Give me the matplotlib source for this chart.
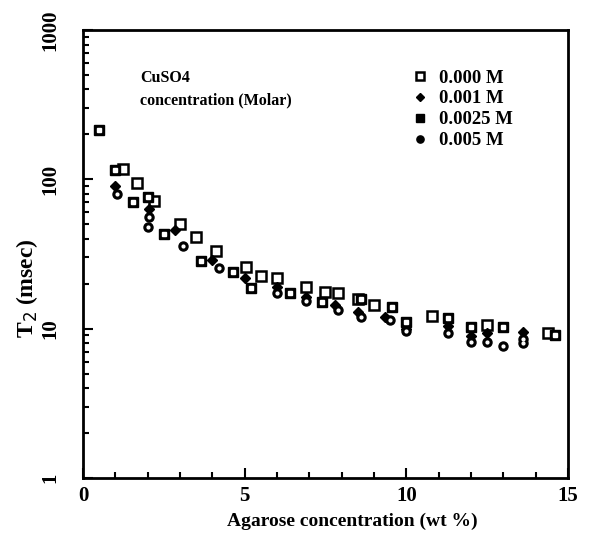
import matplotlib.pyplot as plt
import numpy as np

plt.rcParams['font.family'] = ['Liberation Serif', 'DejaVu Serif']

# T2 vs agarose concentration for each CuSO4 concentration
x_000 = [1.24, 1.67, 2.2, 3.0, 3.5, 4.1, 5.05, 5.5, 6.0, 6.9, 7.5, 7.9, 8.5, 9.0, 10.8, 12.5, 14.4]
t2_000 = [118, 95, 72, 50, 41, 33, 26, 22.5, 22, 19, 17.7, 17.4, 15.7, 14.5, 12.2, 10.6, 9.4]

x_001 = [1.0, 2.05, 2.85, 4.0, 5.0, 6.0, 6.9, 7.8, 8.5, 9.35, 10.0, 11.3, 12.0, 12.5, 13.6]
t2_001 = [90, 63, 46, 29, 22, 19, 16.4, 14.5, 13, 12, 10, 10.4, 8.9, 9.4, 9.5]

x_0025 = [0.5, 1.0, 1.55, 2.0, 2.5, 3.65, 4.65, 5.2, 6.4, 7.4, 8.6, 9.55, 10.0, 11.3, 12.0, 13.0, 14.6]
t2_0025 = [215, 115, 70, 76, 43, 28.5, 24, 18.8, 17.3, 15, 15.7, 14, 11, 11.8, 10.3, 10.3, 9.1]

x_005 = [1.05, 2.05, 2.0, 3.1, 4.2, 6.0, 6.9, 7.9, 8.6, 9.5, 10.0, 11.3, 12.0, 12.5, 13.0, 13.6, 13.6]
t2_005 = [80, 56, 48, 36, 25.6, 17.4, 15.2, 13.4, 12, 11.5, 9.6, 9.4, 8.2, 8.1, 7.6, 8.5, 8.0]

labels = ['0.000 M', '0.001 M', '0.0025 M', '0.005 M']

fig = plt.figure(figsize=(6.13, 5.37), dpi=100)
ax = fig.add_axes([0.1354, 0.110, 0.791, 0.834])

ax.plot(x_000, t2_000, 's', ms=7, mfc='white', mec='black', mew=1.8, label=labels[0])
ax.plot(x_001, t2_001, 'D', ms=5, color='black', label=labels[1])
ax.plot(x_0025, t2_0025, 's', ms=7, color='black', label=labels[2])
ax.plot(x_0025, t2_0025, 's', ms=2.2, color='white')
ax.plot(x_005, t2_005, 'o', ms=6.5, color='black', label=labels[3])
ax.plot(x_005, t2_005, 'o', ms=2, color='white')

ax.set_yscale('log')
ax.set_xlim(0, 15)
ax.set_ylim(1, 1000)
ax.set_xticks([0, 5, 10, 15])
ax.set_xticks(np.arange(0, 16, 1), minor=True)
ax.set_yticks([1, 10, 100, 1000])
ax.set_yticklabels(['1', '10', '100', '1000'], rotation=90, va='center')
ax.tick_params(which='both', direction='in', width=1.5)
ax.tick_params(which='major', length=7, labelsize=15)
ax.tick_params(axis='x', which='major', pad=6)
ax.tick_params(axis='y', which='major', pad=16)
ax.tick_params(which='minor', length=4)
for lab in ax.get_xticklabels() + ax.get_yticklabels():
    lab.set_fontweight('bold')
for sp in ax.spines.values():
    sp.set_linewidth(2)

ax.set_xlabel('Agarose concentration (wt %)', fontsize=14, fontweight='bold')
ax.set_ylabel('T$_2$ (msec)', fontsize=17, fontweight='bold')
ax.xaxis.set_label_coords(0.555, -0.078)
ax.yaxis.set_label_coords(-0.089, 0.424)

ax.text(1.76, 450, 'CuSO4', fontsize=11.5, fontweight='bold')
ax.text(1.76, 320, 'concentration (Molar)', fontsize=11.5, fontweight='bold')

leg = ax.legend(loc='upper left', bbox_to_anchor=(0.676, 0.912), frameon=False,
                prop={'size': 13.5, 'weight': 'bold'}, handletextpad=0.5,
                labelspacing=0.2, handlelength=1.0, markerscale=0.8,
                borderpad=0, borderaxespad=0)

fig.savefig('out.png', dpi=100)
